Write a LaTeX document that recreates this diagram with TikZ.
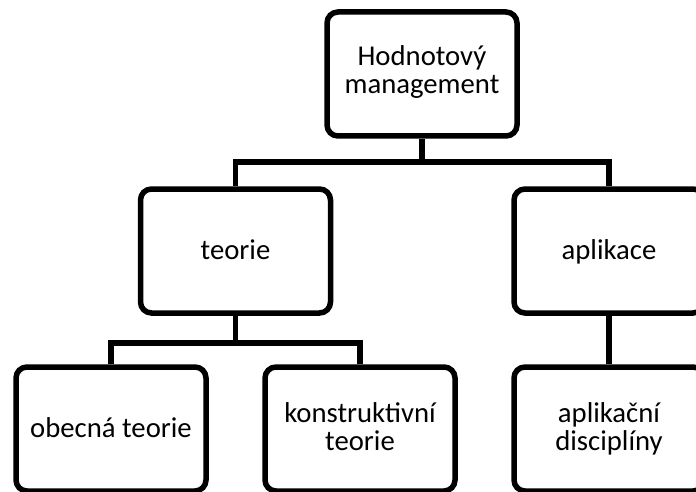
\documentclass[tikz,border=0pt]{standalone}
\usepackage{fontspec}
\setmainfont{Carlito}
\begin{document}
\begin{tikzpicture}[x=1pt,y=-1pt,
  box/.style={draw=black, line width=5.5pt, rounded corners=11pt,
    minimum width=190pt, minimum height=124pt, inner sep=0pt, fill=white},
  lbl/.style={font=\fontsize{28.7}{28}\selectfont, align=center,
    anchor=base, inner sep=0pt},
  link/.style={draw=black, line width=5.5pt}]
\useasboundingbox (0,0) rectangle (696,492);
\clip (0,0) rectangle (696,492);

% hierarchy boxes
\node[box] (hm) at (422,74) {};
\node[box] (te) at (235.5,251) {};
\node[box] (ap) at (609,251) {};
\node[box] (ob) at (111,429) {};
\node[box] (ko) at (360,429) {};
\node[box] (ad) at (609,429) {};

% box captions (base = baseline of the last line)
\node[lbl] (hmt) at (422,94) {Hodnotový\\management};
\node[lbl] (tet) at (235.5,259) {teorie};
\node[lbl] (apt) at (609,259) {aplikace};
\node[lbl] (obt) at (111,437) {obecná teorie};
\node[lbl] (kot) at (360,450) {konstruktivní\\teorie};
\node[lbl] (adt) at (609,450) {aplikační\\disciplíny};

% connectors
\coordinate (bus1) at (422,162);
\coordinate (bus2) at (235.5,343);
\draw[link] (hm.south) -- (bus1);
\draw[link] (te.north) |- (bus1) -| (ap.north);
\draw[link] (te.south) -- (bus2);
\draw[link] (ob.north) |- (bus2) -| (ko.north);
\draw[link] (ap.south) -- (ad.north);
\end{tikzpicture}
\end{document}
